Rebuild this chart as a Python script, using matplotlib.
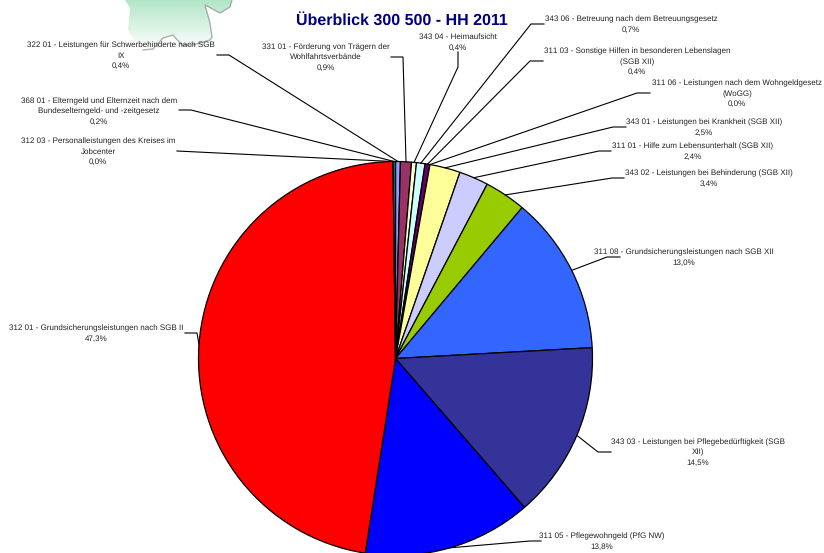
"""Ueberblick 300 500 - HH 2011: pie of the budget items, labels placed by hand."""
import numpy as np
import matplotlib
matplotlib.use("Agg")
import matplotlib.pyplot as plt
from matplotlib.patches import Polygon

W, H = 824, 553

# Slices run clockwise from 12 o'clock
labels = [
    "322 01 - Leistungen für Schwerbehinderte nach SGB\nIX",
    "331 01 - Förderung von Trägern der\nWohlfahrtsverbände",
    "343 04 - Heimaufsicht",
    "343 06 - Betreuung nach dem Betreuungsgesetz",
    "311 03 - Sonstige Hilfen in besonderen Lebenslagen\n(SGB XII)",
    "311 06 - Leistungen nach dem Wohngeldgesetz\n(WoGG)",
    "343 01 - Leistungen bei Krankheit (SGB XII)",
    "311 01 - Hilfe zum Lebensunterhalt (SGB XII)",
    "343 02 - Leistungen bei Behinderung (SGB XII)",
    "311 08 - Grundsicherungsleistungen nach SGB XII",
    "343 03 - Leistungen bei Pflegebedürftigkeit (SGB\nXII)",
    "311 05 - Pflegewohngeld (PfG NW)",
    "312 01 - Grundsicherungsleistungen nach SGB II",
    "312 03 - Personalleistungen des Kreises im\nJobcenter",
    "368 01 - Elterngeld und Elternzeit nach dem\nBundeselterngeld- und -zeitgesetz",
]
values = [0.4, 0.9, 0.4, 0.7, 0.4, 0.0, 2.5, 2.4, 3.4, 13.0, 14.5, 13.8, 47.3, 0.0, 0.2]
colors = ["#9999FF", "#993366", "#FFFFCC", "#CCFFFF", "#660066", "#FF8080", "#FFFF99",
          "#CCCCFF", "#99CC00", "#3366FF", "#333399", "#0000FF", "#FF0000", "#00CCFF", "#008080"]

# label centre (px, y down) and the leader's knee points, label side first
label_pos = [(121, 55), (326, 56.5), (458, 41.5), (631, 23.5), (637, 61), (737, 93),
             (704, 126.5), (693, 151), (709, 178), (684, 257), (698, 451.5),
             (602, 540.5), (96, 332.5), (98, 151), (99, 110.5)]
knees = [[(217, 55), (229, 55)], [(391, 57), (403, 57)], [(458, 52), (458, 67)],
         [(544, 24), (531, 24)], [(543, 61), (530, 61)], [(650, 93), (637, 93)],
         [(626, 127), (613, 127)], [(611, 151), (599, 151)], [(624, 178), (612, 178)],
         [(620, 257), (607, 257)], [(611, 452), (598, 452)], [(541, 541), (530, 541)],
         [(185, 333), (197, 333)], [(177, 151)], [(179, 110), (191, 110)]]

CX, CY, R = 395.5, 358.5, 197

plt.rcParams["font.family"] = ["Liberation Sans", "DejaVu Sans"]
plt.rcParams["text.hinting"] = "no_hinting"
plt.rcParams["text.hinting_factor"] = 1
fig = plt.figure(figsize=(W / 100, H / 100), dpi=100)
ax = fig.add_axes([0, 0, 1, 1])

# map decoration behind the labels, faded towards the bottom
map_outline = [(125, 0), (130, 8), (129, 20), (128, 30), (135, 42), (143, 50), (153, 49),
               (163, 38), (173, 35), (182, 45), (193, 45), (210, 40), (212, 37),
               (210, 23), (205, 5), (220, 13), (230, 7), (232, 0)]
grad = np.linspace(0, 1, 50)[:, None]
rgba = np.ones((50, 1, 4))
rgba[..., 0] = 0.70 + 0.30 * grad
rgba[..., 1] = 0.90 + 0.10 * grad
rgba[..., 2] = 0.78 + 0.22 * grad
im = ax.imshow(rgba, extent=(120, 235, H - 50, H), aspect="auto", zorder=1)
clip = Polygon([(x, H - y) for x, y in map_outline], closed=True, transform=ax.transData,
               fc="none", ec="none")
ax.add_patch(clip)
im.set_clip_path(clip)
ax.plot([p[0] for p in map_outline[5:]], [H - p[1] for p in map_outline[5:]],
        color="#8a9a94", lw=1.0, alpha=0.75, zorder=1)

ax.pie(values, colors=colors, center=(CX, H - CY), radius=R, startangle=90,
       counterclock=False, wedgeprops=dict(edgecolor="black", linewidth=0.9), frame=False)

# leaders end on the outer edge of each slice, at its middle angle
mids = (np.cumsum(values) - np.array(values) / 2) / sum(values) * 2 * np.pi
for m, pts in zip(mids, knees):
    xs = [p[0] for p in pts] + [CX + R * np.sin(m)]
    ys = [H - p[1] for p in pts] + [H - CY + R * np.cos(m)]
    ax.plot(xs, ys, color="black", lw=0.8, zorder=3, solid_joinstyle="miter")

for lab, v, (x, y) in zip(labels, values, label_pos):
    pct = f"{v:.1f}".replace(".", ",") + "%"
    ax.text(x, H - y - 0.8, f"{lab}\n{pct}", ha="center", va="center", fontsize=6.0,
            color="#222222", linespacing=1.5, zorder=4)

ax.text(402, H - 20.5, "Überblick 300 500 - HH 2011", ha="center", va="center",
        fontsize=11.6, fontweight="bold", color="#000080", zorder=4)

ax.set_xlim(0, W)
ax.set_ylim(0, H)
ax.set_aspect("auto")
ax.axis("off")
fig.savefig("out.png", dpi=100)
